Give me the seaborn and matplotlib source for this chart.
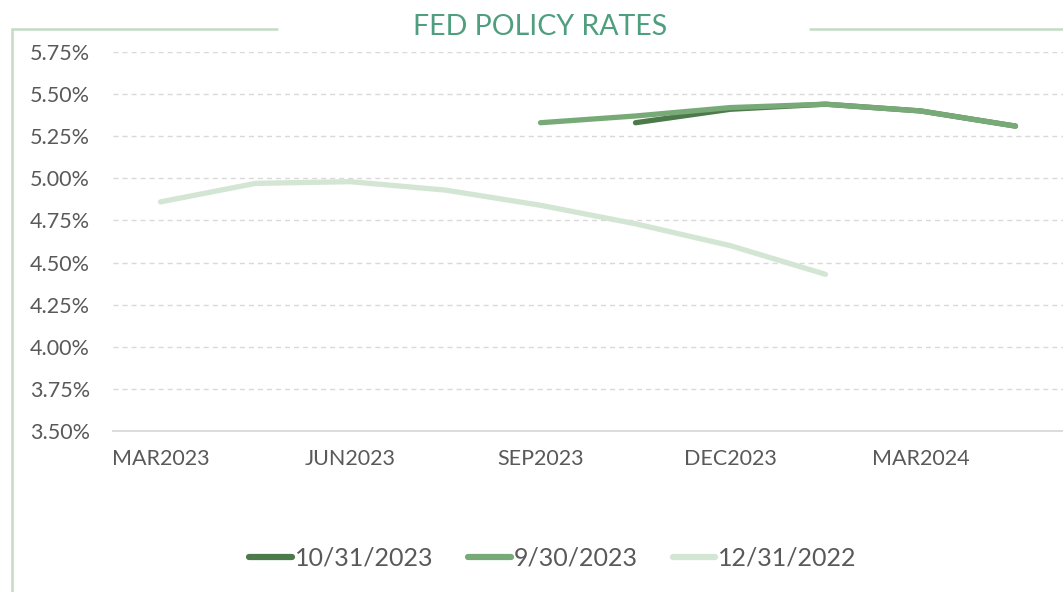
import numpy as np
import pandas as pd
import matplotlib
matplotlib.use('Agg')
import matplotlib.pyplot as plt
from matplotlib.ticker import FuncFormatter
from matplotlib.lines import Line2D
import seaborn as sns

# meeting months on the x axis (only every other one is labelled)
months = ['MAR2023', 'MAY2023', 'JUN2023', 'JUL2023', 'SEP2023',
          'NOV2023', 'DEC2023', 'JAN2024', 'MAR2024', 'MAY2024']
tick_labels = ['MAR2023', '', 'JUN2023', '', 'SEP2023', '', 'DEC2023', '', 'MAR2024', '']

# implied policy rate (%) as of each curve date
curve_names = ['10/31/2023', '9/30/2023', '12/31/2022']
rates_oct23 = [np.nan, np.nan, np.nan, np.nan, np.nan, 5.33, 5.41, 5.44, 5.40, 5.31]
rates_sep23 = [np.nan, np.nan, np.nan, np.nan, 5.33, 5.37, 5.42, 5.44, 5.40, 5.31]
rates_dec22 = [4.86, 4.97, 4.98, 4.93, 4.84, 4.73, 4.60, 4.43, np.nan, np.nan]

colors = {'10/31/2023': '#4d7a4b', '9/30/2023': '#78aa78', '12/31/2022': '#d3e5d3'}

# long-form table for seaborn
rows = []
for name, vals in zip(curve_names, [rates_oct23, rates_sep23, rates_dec22]):
    for i, v in enumerate(vals):
        rows.append({'pos': i, 'rate': v, 'curve': name})
df = pd.DataFrame(rows).dropna()

sns.set_theme(style='white')
plt.rcParams['font.family'] = ['Lato', 'DejaVu Sans']
text_col = '#595959'

fig = plt.figure(figsize=(10.63, 5.92), dpi=100)
ax = fig.add_axes([0.1063, 0.272, 0.8937, 0.6402])

sns.lineplot(data=df, x='pos', y='rate', hue='curve', hue_order=curve_names,
             palette=colors, linewidth=3.8, solid_capstyle='round',
             legend=False, ax=ax)

ax.set_xlim(-0.5, len(months) - 0.5)
ax.set_ylim(3.5, 5.75)
ax.set_yticks(np.arange(3.5, 5.76, 0.25))
ax.yaxis.set_major_formatter(FuncFormatter(lambda v, _: f'{v:.2f}%'))
ax.set_xticks(range(len(months)))
ax.set_xticklabels(tick_labels)
ax.tick_params(axis='both', length=0, labelsize=15.5, colors=text_col)
ax.tick_params(axis='y', pad=16.5)
ax.tick_params(axis='x', pad=13)
ax.set_xlabel('')
ax.set_ylabel('')

for y in np.arange(3.75, 5.76, 0.25):
    ax.axhline(y, color='#d9d9d9', linewidth=1, linestyle=(0, (3.6, 2.9)), zorder=0)
for s in ['top', 'right', 'left']:
    ax.spines[s].set_visible(False)
ax.spines['bottom'].set_color('#d9d9d9')
ax.spines['bottom'].set_linewidth(1.3)

fig.text(0.5085, 0.954, 'FED POLICY RATES', ha='center', va='center',
         fontsize=20.5, color='#4f9e7e')

# frame around the chart
frame_col = '#c3dcc3'
fig.add_artist(Line2D([0.0113, 0.0113], [0.0, 0.951], color=frame_col, linewidth=1.8))
fig.add_artist(Line2D([0.0113, 0.2606], [0.951, 0.951], color=frame_col, linewidth=1.8))
fig.add_artist(Line2D([0.762, 1.0], [0.951, 0.951], color=frame_col, linewidth=1.8))

handles = [Line2D([], [], color=colors[n], linewidth=4.5, solid_capstyle='round') for n in curve_names]
fig.legend(handles, curve_names, loc='center', bbox_to_anchor=(0.52, 0.057), ncol=3,
           frameon=False, fontsize=18, labelcolor=text_col, handlelength=1.7,
           handletextpad=0.12, columnspacing=1.4)

fig.savefig('out.png', dpi=100)
